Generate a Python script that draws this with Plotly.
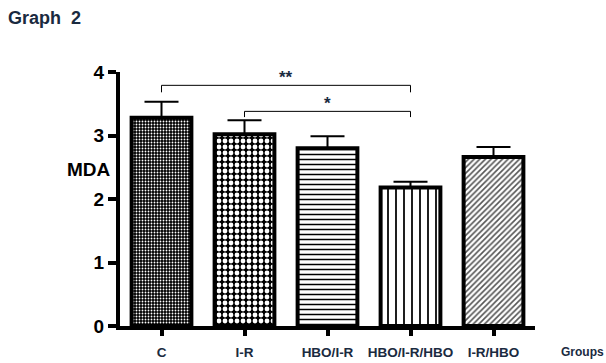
import plotly.graph_objects as go

categories = ["C", "I-R", "HBO/I-R", "HBO/I-R/HBO", "I-R/HBO"]
means = [3.28, 3.02, 2.80, 2.18, 2.66]
errors = [0.25, 0.22, 0.19, 0.09, 0.16]
y_ticks = [0, 1, 2, 3, 4]

# significance brackets: (from category index, to category index, top, leg bottom, label)
br_from = [0, 1]
br_to = [3, 3]
br_top = [3.79, 3.38]
br_low = [3.68, 3.29]
br_label = ["**", "*"]

pat_shape = [".", ".", "-", "|", "/"]
pat_fg = ["white", "white", "black", "black", "#555555"]
pat_bg = ["black", "black", "white", "white", "white"]
pat_size = [3, 6, 5, 8, 4]
pat_sol = [0.3, 0.5, 0.3, 0.22, 0.4]

fig = go.Figure()
fig.add_trace(go.Bar(
    x=list(range(len(categories))), y=means, width=0.72,
    marker=dict(color="white", line=dict(color="black", width=4),
                pattern=dict(shape=pat_shape, fgcolor=pat_fg, bgcolor=pat_bg,
                             size=pat_size, solidity=pat_sol, fillmode="replace")),
    error_y=dict(type="data", array=errors, arrayminus=[0]*len(errors), symmetric=False,
                 color="black", thickness=2, width=17),
    showlegend=False,
))

for a, b, top, low, lab in zip(br_from, br_to, br_top, br_low, br_label):
    fig.add_shape(type="path", xref="x", yref="y",
                  path=f"M {a},{low} L {a},{top} L {b},{top} L {b},{low}",
                  line=dict(color="black", width=1))
    fig.add_annotation(x=(a + b) / 2, y=top, xref="x", yref="y", text=lab,
                       showarrow=False, yanchor="bottom", yshift=-4,
                       font=dict(family="Arial", size=17, color="#1a2a40", weight="bold"))

fig.add_annotation(text="MDA", xref="paper", yref="y", x=-0.017, y=2.46,
                   xanchor="right", yanchor="middle", showarrow=False,
                   font=dict(family="Arial", size=19, color="black", weight="bold"))
fig.add_annotation(text="Groups", xref="paper", yref="paper", x=1.058, y=-0.102,
                   xanchor="left", yanchor="middle", showarrow=False,
                   font=dict(family="Arial", size=12, color="#1a2a40", weight="bold"))
# extend x-axis line left beneath the y ticks
fig.add_shape(type="line", xref="paper", yref="y", x0=-0.02, x1=0, y0=0, y1=0,
              line=dict(color="black", width=4))

fig.update_layout(
    width=606, height=363,
    margin=dict(l=120, r=71, t=72, b=37),
    paper_bgcolor="white", plot_bgcolor="white",
    title=dict(text="Graph  2", x=8/606, xanchor="left", y=1-18/363, yanchor="middle",
               font=dict(family="Arial", size=18, color="#1a2a40", weight="bold")),
    xaxis=dict(range=[-0.5, 4.5], tickvals=list(range(len(categories))), ticktext=categories,
               showline=True, linecolor="black", linewidth=4, ticks="outside",
               ticklen=6, tickwidth=4, tickcolor="black", showgrid=False, zeroline=False,
               ticklabelstandoff=5, automargin=False,
               tickfont=dict(family="Arial", size=13.5, color="#1a2a40", weight="bold")),
    yaxis=dict(range=[0, 4], tickvals=y_ticks, showline=True, linecolor="black", linewidth=4,
               ticks="outside", ticklen=8, tickwidth=4, tickcolor="black",
               showgrid=False, zeroline=False, automargin=False,
               tickfont=dict(family="Arial", size=19, color="black", weight="bold")),
)

fig.write_html("out.html")
